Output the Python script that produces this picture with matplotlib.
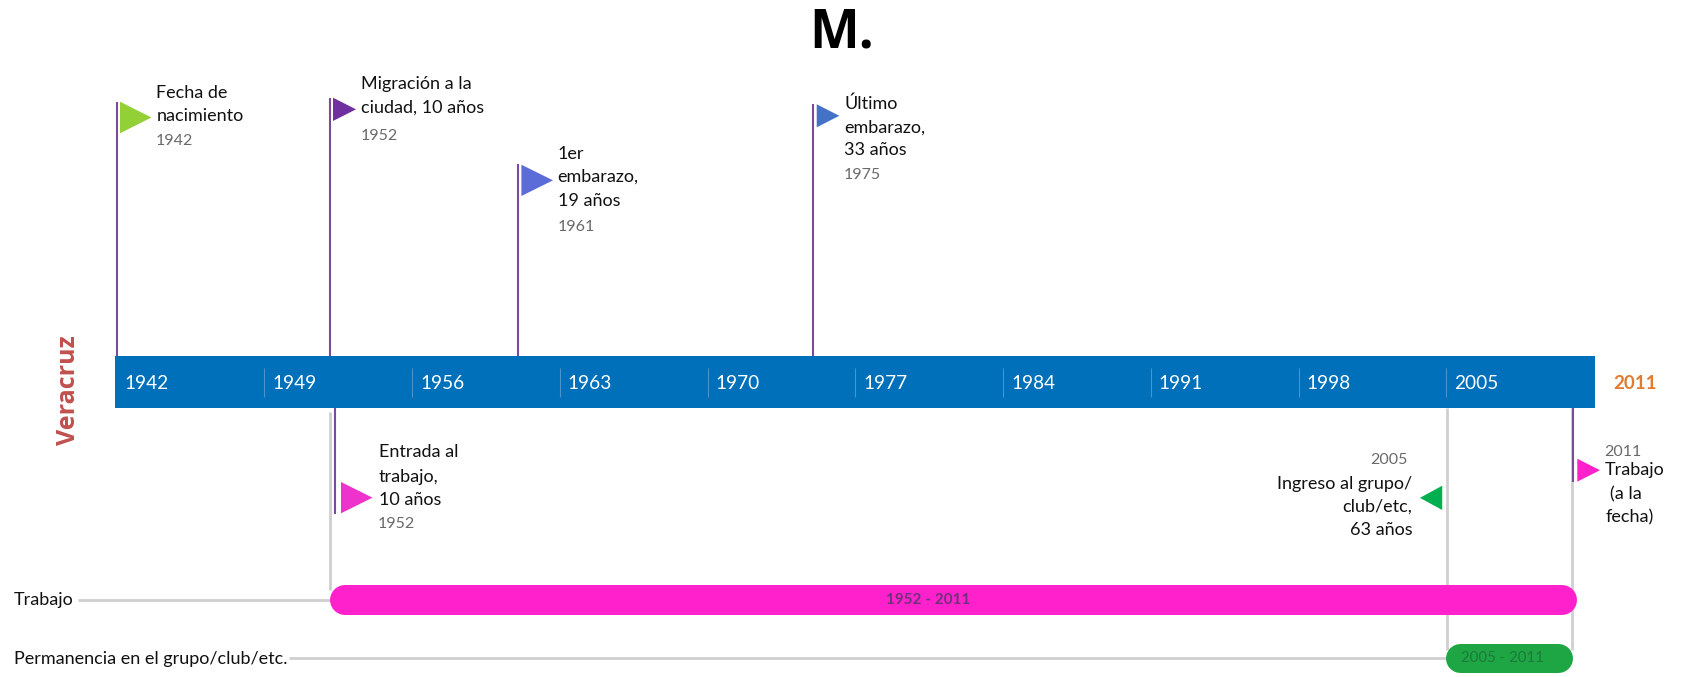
import matplotlib
matplotlib.use("Agg")
from matplotlib import pyplot as plt
from matplotlib.patches import Polygon

## Data ##
tick_years = [1942, 1949, 1956, 1963, 1970, 1977, 1984, 1991, 1998, 2005]
axis_start = 1942
axis_end = 2012
last_year = 2011

up_years = [1942, 1952, 1961, 1975]
up_labels = ["Fecha de\nnacimiento", "Migración a la\nciudad, 10 años",
             "1er\nembarazo,\n19 años", "Último\nembarazo,\n33 años"]
up_colors = ["#92d036", "#7030a0", "#5b6bd8", "#4472c4"]

work_start = 1952
work_end = 2011
group_start = 2005
group_end = 2011

## Layout, everything in pixels ##
W, H = 1685, 677
PX_PER_YEAR = 21.11
ORIGIN_PX = 116.5   # where 1942 falls
POLE = "#7a4a9c"
GREY = "#cfcfcf"
BLACK = "#111111"
YEARGREY = "#6a6a6a"
FONT = "Lato"
TXT = 13
TXT_YEAR = 11.5

plt.rcParams["font.family"] = [FONT, "DejaVu Sans"]


def yx(year, dx=0):
    # year plus an offset in pixels
    return year + dx / PX_PER_YEAR


def px(x):
    # absolute pixel column as a year
    return axis_start + (x - ORIGIN_PX) / PX_PER_YEAR


def flag(year, dx, top, h, w, color):
    # triangle pennant, negative w points left
    base = yx(year, dx)
    tip = yx(year, dx + w)
    ax.add_patch(Polygon([(base, top), (tip, top + h / 2), (base, top + h)],
                         closed=True, fc=color, ec="none", zorder=4))


def lines(x, ys, label, **kw):
    # one text call per line so the spacing stays exact
    for y, s in zip(ys, label.split("\n")):
        ax.text(x, y + 1, s, va="center", color=BLACK, fontsize=TXT, **kw)


def year_text(x, y, yr, **kw):
    ax.text(x, y + 1, str(yr), va="center", color=YEARGREY, fontsize=TXT_YEAR, **kw)


def pill(start, end, y, thick, color, dx0=0, dx1=0):
    # round caps stick out by half the thickness, so pull the ends in
    half = thick / 2
    ax.plot([yx(start, dx0 + half), yx(end, dx1 - half)], [y, y], color=color,
            lw=thick * 0.72, solid_capstyle="round", zorder=3)


fig = plt.figure(figsize=(W / 100, H / 100), dpi=100)
ax = fig.add_axes([0, 0, 1, 1])
ax.set_xlim(px(0), px(W))
ax.set_ylim(H, 0)
ax.axis("off")

ax.text(yx(1975, 28), 33, "M.", ha="center", va="center", fontsize=38,
        fontweight="bold", family="Open Sans", color="black")

# main band
ax.barh(382, yx(axis_end, 0.8) - yx(axis_start, -1.5), height=52.5, left=yx(axis_start, -1.5),
        color="#0070bb", zorder=2)
ax.vlines(tick_years[1:], 368, 397, color="#4a94cc", lw=0.8, zorder=3)
for yr in tick_years:
    ax.text(yx(yr, 8), 383.5, str(yr), va="center", color="white", fontsize=13.7, zorder=3)
ax.text(yx(last_year, 40), 383.5, str(last_year), va="center", color="#e27b30",
        fontsize=13.5, fontweight="bold")
ax.text(yx(axis_start, -48), 390, "Veracruz", rotation=90, ha="center", va="center",
        color="#c0504d", fontsize=18, fontweight="bold", family="Open Sans")

# flags above the band
pole_dx = [0.3, 2, 0.4, 0]
pole_top = [102, 98, 164, 104]
flag_dx = [3.5, 5.4, 3.8, 3.6]
flag_top = [101.7, 97.7, 164.7, 104.3]
flag_h = [31.6, 23.3, 31.3, 23]
flag_w = [31.4, 23, 31.6, 22.6]
text_x = [156.4, 361.4, 557.7, 844.3]
text_ys = [[91.7, 115], [83.3, 106.7], [152.6, 176, 200], [102.7, 126.2, 149.3]]
year_x = [155.6, 360.6, 558, 843.5]
year_y = [140, 135, 225.7, 173.7]
for i, yr in enumerate(up_years):
    ax.vlines(yx(yr, pole_dx[i]), pole_top[i], 356, color=POLE, lw=1.5, zorder=1)
    flag(yr, flag_dx[i], flag_top[i], flag_h[i], flag_w[i], up_colors[i])
    lines(px(text_x[i]), text_ys[i], up_labels[i])
    year_text(px(year_x[i]), year_y[i], yr)

# guides down to the duration bars
ax.vlines(yx(work_start, 2.7), 412, 590, color=GREY, lw=2, zorder=1)
ax.vlines(yx(group_start, 0.5), 408, 650, color=GREY, lw=2, zorder=1)
ax.vlines(yx(group_end, -1), 408, 650, color=GREY, lw=2, zorder=1)
ax.hlines(600, yx(axis_start, -38.5), yx(work_start, 5), color=GREY, lw=2, zorder=1)
ax.hlines(658, yx(axis_start, 172.5), yx(group_start, 5), color=GREY, lw=2, zorder=1)

# flags below the band
ax.vlines(yx(1952, 7), 408, 514, color=POLE, lw=1.5, zorder=2)
flag(1952, 13.4, 482, 31.3, 31.5, "#ee33cc")
lines(yx(1952, 51), [451, 475.7, 499], "Entrada al\ntrabajo,\n10 años")
year_text(yx(1952, 50.5), 523.3, 1952)

ax.vlines(yx(2011, 0), 408, 482, color=POLE, lw=1.5, zorder=2)
flag(2011, 4.2, 458.7, 23, 22.7, "#ff22cc")
year_text(yx(2011, 31.5), 450.7, 2011)
lines(yx(2011, 32), [469.3], "Trabajo")
lines(yx(2011, 37), [493.3], "(a la")
lines(yx(2011, 32), [516.7], "fecha)")

flag(2005, -4.2, 485.7, 24.3, -22.3, "#00b050")
year_text(yx(2005, -39), 458.7, 2005, ha="right")
lines(yx(2005, -34.2), [482.7, 506, 529.3], "Ingreso al grupo/\nclub/etc,\n63 años", ha="right")

# duration bars
pill(work_start, work_end, 600, 30, "#ff22cc", dx0=2.4, dx1=3.9)
pill(group_start, group_end, 657.8, 29, "#1fa644", dx0=-0.8, dx1=-0.4)
ax.text(yx(1952, 601), 599.5, "%d - %d" % (work_start, work_end), ha="center", va="center",
        color="#70307a", fontsize=11, fontweight="bold", zorder=5)
ax.text(yx(2005, 56.5), 658.5, "%d - %d" % (group_start, group_end), ha="center", va="center",
        color="#1c7a3a", fontsize=10.8, zorder=5)

lines(yx(axis_start, -102.5), [599], "Trabajo")
lines(yx(axis_start, -102.5), [658], "Permanencia en el grupo/club/etc.")

fig.savefig("out.png", dpi=100)
